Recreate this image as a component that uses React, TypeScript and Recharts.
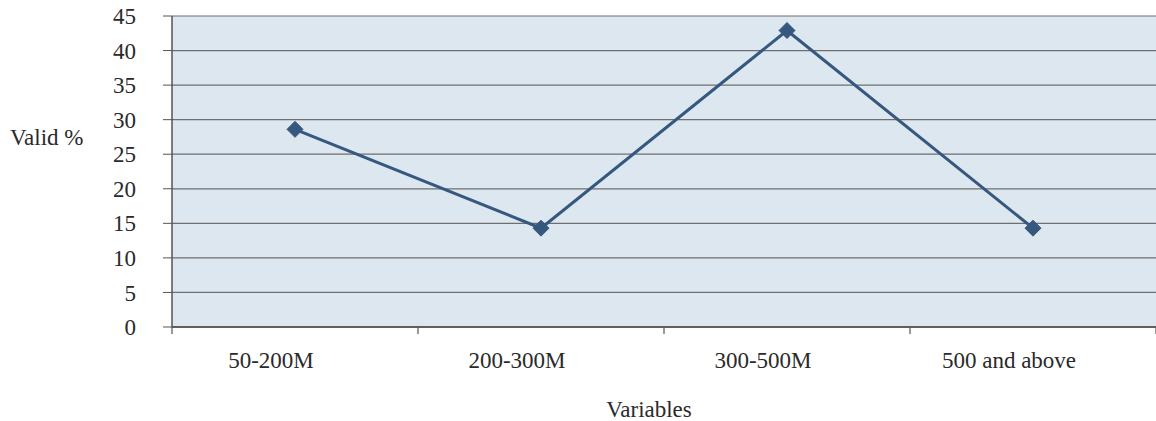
import { LineChart, Line, XAxis, YAxis, CartesianGrid, Label } from 'recharts'

const categories = ['50-200M', '200-300M', '300-500M', '500 and above']
const validPct = [28.6, 14.3, 42.9, 14.3]
const yTicks = [0, 5, 10, 15, 20, 25, 30, 35, 40, 45]
// band edges (tick marks) and band centres (labels) on a 0..4 numeric axis
const xTicks = [0, 0.5, 1, 1.5, 2, 2.5, 3, 3.5, 4]

const data = categories.map((c, i) => ({ cat: c, pos: i + 0.5, value: validPct[i] }))

const FONT = '"Liberation Serif", "Times New Roman", serif'
const INK = '#2a2a2a'
const LINE = '#36587f'
const FS = 23
const X_MARGIN = 25

const Diamond = (props: any) => {
  const { cx, cy } = props
  if (cx == null || cy == null) return null
  const r = 8
  return (
    <polygon
      points={`${cx},${cy - r} ${cx + r},${cy} ${cx},${cy + r} ${cx - r},${cy}`}
      fill={LINE}
      stroke={LINE}
      strokeWidth={1}
    />
  )
}

const XTick = (props: any) => {
  const { x, y, payload } = props
  const v = payload.value as number
  if (Number.isInteger(v)) {
    return <line x1={x} y1={y - X_MARGIN} x2={x} y2={y - X_MARGIN + 7} stroke="#555" strokeWidth={1.2} />
  }
  return (
    <text x={x} y={y} dx={-24} dy="0.71em" textAnchor="middle" fontFamily={FONT} fontSize={FS} fill={INK}>
      {categories[Math.floor(v)]}
    </text>
  )
}

export default function App() {
  return (
    <div style={{ position: 'absolute', left: 0, top: 0, width: 1156, height: 421, background: 'white' }}>
      <LineChart width={1156} height={421} data={data} margin={{ top: 16, right: 0, bottom: 0, left: 0 }}>
        <CartesianGrid vertical={false} fill="#dce7f0" stroke="#6f6f6f" strokeWidth={1.2} />
        <XAxis
          type="number"
          dataKey="pos"
          domain={[0, 4]}
          ticks={xTicks}
          interval={0}
          height={94}
          tickLine={false}
          tickSize={0}
          tickMargin={X_MARGIN}
          axisLine={{ stroke: '#444', strokeWidth: 1.5 }}
          tick={<XTick />}
        >
          <Label value="Variables" position="insideBottom" offset={4} dx={-15}
            style={{ fontFamily: FONT, fontSize: FS, fill: INK }} />
        </XAxis>
        <YAxis
          domain={[0, 45]}
          ticks={yTicks}
          width={172}
          tickSize={9}
          tickMargin={27}
          tickLine={{ stroke: '#555' }}
          axisLine={{ stroke: '#555', strokeWidth: 1.5 }}
          tick={{ fontFamily: FONT, fontSize: FS, fill: INK }}
        >
          <Label
            content={() => (
              <text x={10} y={145} fontFamily={FONT} fontSize={FS} fill={INK}>Valid %</text>
            )}
          />
        </YAxis>
        <Line
          dataKey="value"
          stroke={LINE}
          strokeWidth={3}
          dot={<Diamond />}
          activeDot={false}
          isAnimationActive={false}
        />
      </LineChart>
    </div>
  )
}
